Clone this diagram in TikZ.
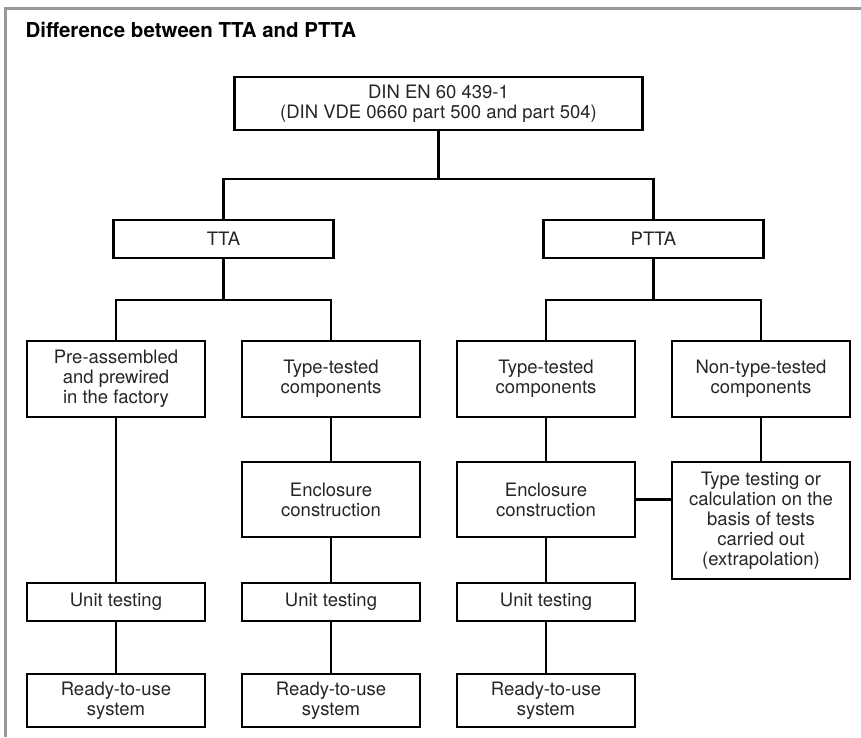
\documentclass[tikz,border=0pt]{standalone}
\usepackage{fontspec}
\setmainfont{TeX Gyre Heros}
\begin{document}
\begin{tikzpicture}[x=1pt,y=-1pt,
  box/.style={draw=black, line width=2.2pt, align=center, inner sep=0pt,
    font=\fontsize{18.5}{20}\selectfont, text=black!85},
  colbox/.style={box, minimum width=178pt},
  conn/.style={line width=2.2pt, draw=black},
  frame/.style={line width=3pt, draw=black!40}]
\useasboundingbox (0,0) rectangle (861,737);
\draw[frame] (5.5,737) -- (5.5,8) -- (861,8);
\node[anchor=base west, font=\fontsize{20.5}{24}\selectfont\bfseries] (title) at (22,37) {Difference between TTA and PTTA};

\node[box, minimum width=408pt, minimum height=53pt] (din) at (438.5,103.5) {DIN EN 60 439-1\\(DIN VDE 0660 part 500 and part 504)};
\node[box, minimum width=220pt, minimum height=38pt] (tta) at (223.5,239) {TTA};
\node[box, minimum width=220pt, minimum height=38pt] (ptta) at (653.5,239) {PTTA};

\node[colbox, minimum height=76pt] (pre) at (116,379) {Pre-assembled\\and prewired\\in the factory};
\node[colbox, minimum height=76pt] (tt1) at (331,379) {Type-tested\\components};
\node[colbox, minimum height=76pt] (tt2) at (546,379) {Type-tested\\components};
\node[colbox, minimum height=76pt] (ntt) at (761,379) {Non-type-tested\\components};

\node[colbox, minimum height=75pt] (enc1) at (331,499.5) {Enclosure\\construction};
\node[colbox, minimum height=75pt] (enc2) at (546,499.5) {Enclosure\\construction};
\node[colbox, minimum height=117pt] (ext) at (761,520.5) {Type testing or\\calculation on the\\basis of tests\\carried out\\(extrapolation)};

\node[colbox, minimum height=38pt] (ut1) at (116,602) {Unit testing};
\node[colbox, minimum height=38pt] (ut2) at (331,602) {Unit testing};
\node[colbox, minimum height=38pt] (ut3) at (546,602) {Unit testing};

\node[colbox, minimum height=53pt] (rd1) at (116,700.5) {Ready-to-use\\system};
\node[colbox, minimum height=53pt] (rd2) at (331,700.5) {Ready-to-use\\system};
\node[colbox, minimum height=53pt] (rd3) at (546,700.5) {Ready-to-use\\system};

\draw[conn] (din.south) -- ++(0,48) -| (tta.north);
\draw[conn] (din.south) -- ++(0,48) -| (ptta.north);
\draw[conn] (tta.south) -- ++(0,41) -| (pre.north);
\draw[conn] (tta.south) -- ++(0,41) -| (tt1.north);
\draw[conn] (ptta.south) -- ++(0,41) -| (tt2.north);
\draw[conn] (ptta.south) -- ++(0,41) -| (ntt.north);

\draw[conn] (pre) -- (ut1);
\draw[conn] (tt1) -- (enc1);
\draw[conn] (enc1) -- (ut2);
\draw[conn] (tt2) -- (enc2);
\draw[conn] (enc2) -- (ut3);
\draw[conn] (ntt) -- (ext);
\draw[conn] (enc2.east) -- (enc2.east -| ext.west);

\draw[conn] (ut1) -- (rd1);
\draw[conn] (ut2) -- (rd2);
\draw[conn] (ut3) -- (rd3);
\end{tikzpicture}
\end{document}
